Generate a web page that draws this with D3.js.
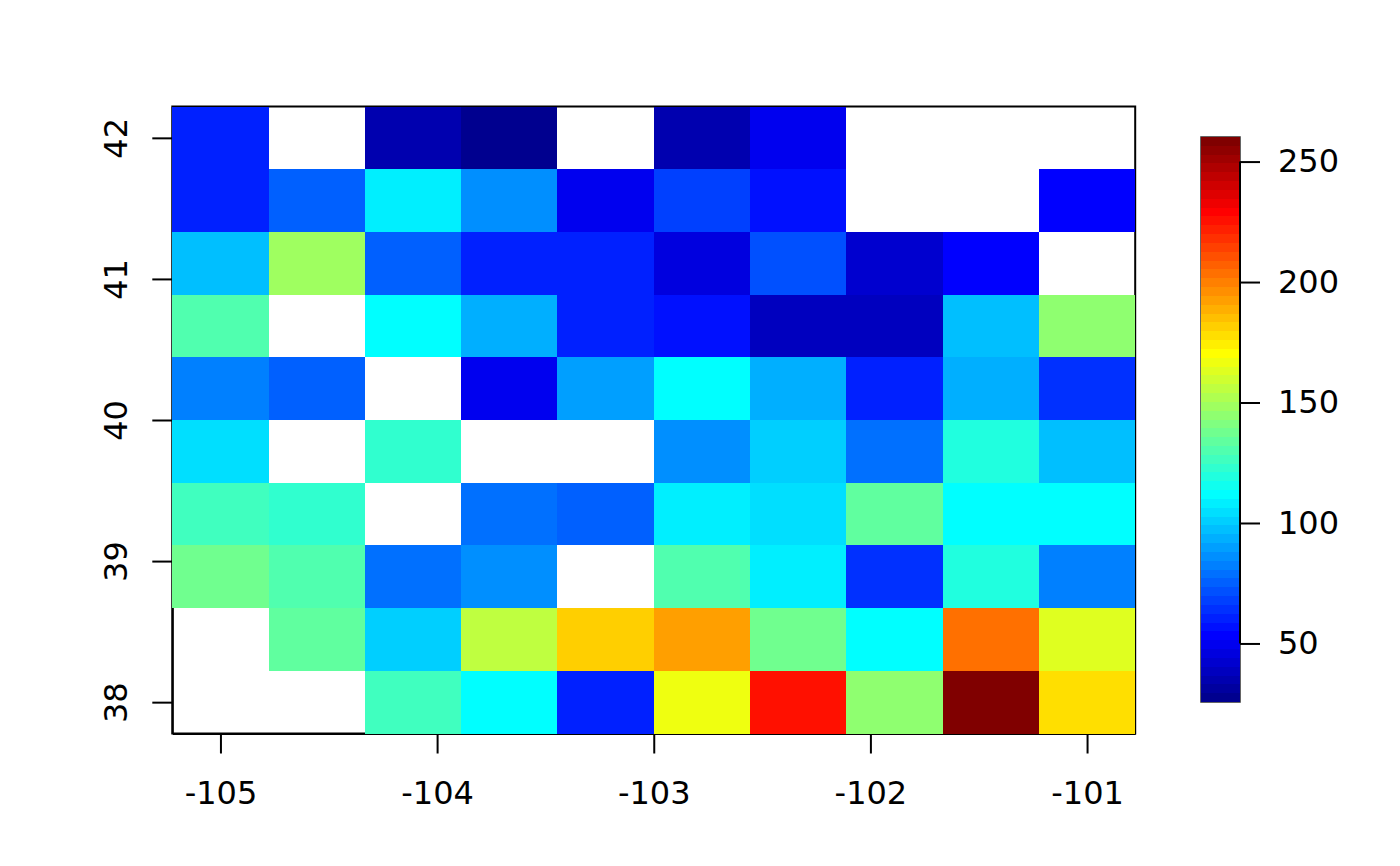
<!DOCTYPE html>
<html>
<head>
<meta charset="utf-8">
<script src="https://cdn.jsdelivr.net/npm/d3@7"></script>
<style>
  html, body { margin: 0; padding: 0; background: white; }
  svg { display: block; }
  text { font-family: "DejaVu Sans", sans-serif; font-size: 32px; fill: black; }
  .tick line, .domain { stroke: black; stroke-width: 2px; }
</style>
</head>
<body>
<svg id="chart" width="1400" height="866"></svg>
<script>
const LONS = [-105, -104.5556, -104.1111, -103.6667, -103.2222, -102.7778, -102.3333, -101.8889, -101.4444, -101];
const LATS = [42, 41.5556, 41.1111, 40.6667, 40.2222, 39.7778, 39.3333, 38.8889, 38.4444, 38];
const LON_TICKS = [-105, -104, -103, -102, -101];
const LAT_TICKS = [38, 39, 40, 41, 42];
const LEGEND_TICKS = [50, 100, 150, 200, 250];
const VALUE_RANGE = [25.7, 260.2];

// one row per latitude, north first; null = no data
const ROW_42_0 = [60.5, null, 34.9, 27.5, null, 34.9, 49.5, null, null, null];
const ROW_41_6 = [60.5, 75.2, 108.1, 86.2, 49.5, 67.8, 56.8, null, null, 53.2];
const ROW_41_1 = [97.1, 148.4, 75.2, 60.5, 60.5, 45.9, 71.5, 42.2, 53.2, null];
const ROW_40_7 = [130.1, null, 111.8, 93.5, 60.5, 56.8, 38.5, 38.5, 97.1, 144.8];
const ROW_40_2 = [82.5, 75.2, null, 49.5, 89.8, 111.8, 93.5, 60.5, 93.5, 64.2];
const ROW_39_8 = [104.5, null, 122.8, null, null, 86.2, 100.8, 78.8, 119.1, 97.1];
const ROW_39_3 = [126.4, 122.8, null, 78.8, 75.2, 108.1, 104.5, 133.8, 111.8, 111.8];
const ROW_38_9 = [137.4, 130.1, 78.8, 86.2, null, 130.1, 108.1, 64.2, 119.1, 82.5];
const ROW_38_4 = [null, 133.8, 100.8, 155.7, 181.4, 192.4, 137.4, 111.8, 203.4, 163.1];
const ROW_38_0 = [null, null, 126.4, 111.8, 60.5, 166.7, 225.3, 144.8, 258.3, 177.7];
const GRID = [ROW_42_0, ROW_41_6, ROW_41_1, ROW_40_7, ROW_40_2, ROW_39_8, ROW_39_3, ROW_38_9, ROW_38_4, ROW_38_0];

// tim.colors(64)
const PALETTE = [
  "#00008F", "#00009F", "#0000AF", "#0000BF", "#0000CF", "#0000DF", "#0000EF", "#0000FF",
  "#0010FF", "#0020FF", "#0030FF", "#0040FF", "#0050FF", "#0060FF", "#0070FF", "#0080FF",
  "#008FFF", "#009FFF", "#00AFFF", "#00BFFF", "#00CFFF", "#00DFFF", "#00EFFF", "#00FFFF",
  "#10FFEF", "#20FFDF", "#30FFCF", "#40FFBF", "#50FFAF", "#60FF9F", "#70FF8F", "#80FF80",
  "#8FFF70", "#9FFF60", "#AFFF50", "#BFFF40", "#CFFF30", "#DFFF20", "#EFFF10", "#FFFF00",
  "#FFEF00", "#FFDF00", "#FFCF00", "#FFBF00", "#FFAF00", "#FF9F00", "#FF8F00", "#FF8000",
  "#FF7000", "#FF6000", "#FF5000", "#FF4000", "#FF3000", "#FF2000", "#FF1000", "#FF0000",
  "#EF0000", "#DF0000", "#CF0000", "#BF0000", "#AF0000", "#9F0000", "#8F0000", "#800000"
];

const plot = { left: 172.3, right: 1135.2, top: 106.5, bottom: 733.5 };
const bar = { left: 1201, right: 1240, top: 137, bottom: 702 };
const CELL_DEG = 4 / 9;
const TICK_LEN = 20;

const svg = d3.select("#chart");

const x = d3.scaleLinear()
    .domain([-105 - CELL_DEG / 2, -101 + CELL_DEG / 2])
    .range([plot.left, plot.right]);
const y = d3.scaleLinear()
    .domain([38 - CELL_DEG / 2, 42 + CELL_DEG / 2])
    .range([plot.bottom, plot.top]);
const color = d3.scaleQuantize().domain(VALUE_RANGE).range(PALETTE);
const legendY = d3.scaleLinear().domain(VALUE_RANGE).range([bar.bottom, bar.top]);

// Plot box and axes go underneath, the raster half covers the box line
// ----------------------------------------
svg.append("rect")
    .attr("x", plot.left)
    .attr("y", plot.top)
    .attr("width", plot.right - plot.left)
    .attr("height", plot.bottom - plot.top)
    .attr("fill", "white")
    .attr("stroke", "black")
    .attr("stroke-width", 2);

svg.append("g")
    .attr("transform", `translate(0, ${plot.bottom})`)
    .call(d3.axisBottom(x).tickValues(LON_TICKS).tickFormat(d => String(d))
        .tickSize(TICK_LEN).tickSizeOuter(0).tickPadding(28));

svg.append("g")
    .attr("transform", `translate(${plot.left}, 0)`)
    .call(d3.axisLeft(y).tickValues(LAT_TICKS).tickFormat(d => String(d))
        .tickSize(TICK_LEN).tickSizeOuter(0))
    .call(g => g.selectAll("text")
        .attr("text-anchor", "middle")
        .attr("dy", null)
        .attr("x", null)
        .attr("transform", "translate(-45, 0) rotate(-90)"));

// Cells, edges rounded so that neighbours share a pixel boundary
// ----------------------------------------
const cells = GRID.flatMap((row, r) => row.map((value, c) =>
    ({ lon: LONS[c], lat: LATS[r], value: value })))
    .filter(d => d.value !== null);

const x0 = d => Math.round(x(d.lon - CELL_DEG / 2));
const x1 = d => Math.round(x(d.lon + CELL_DEG / 2));
const y0 = d => Math.round(y(d.lat + CELL_DEG / 2));
const y1 = d => Math.round(y(d.lat - CELL_DEG / 2));

svg.append("g")
    .selectAll("rect")
    .data(cells)
    .join("rect")
    .attr("x", x0)
    .attr("y", y0)
    .attr("width", d => x1(d) - x0(d))
    .attr("height", d => y1(d) - y0(d))
    .attr("fill", d => color(d.value));

// Legend
// ----------------------------------------
const bandTop = d => Math.round(legendY(color.invertExtent(d)[1]));
const bandBottom = d => Math.round(legendY(color.invertExtent(d)[0]));

const legend = svg.append("g");
legend.append("rect")
    .attr("x", bar.left)
    .attr("y", bar.top)
    .attr("width", bar.right - bar.left)
    .attr("height", bar.bottom - bar.top)
    .attr("fill", "none")
    .attr("stroke", "#333")
    .attr("stroke-width", 1.5);
legend.selectAll("rect.band")
    .data(PALETTE)
    .join("rect")
    .attr("class", "band")
    .attr("x", bar.left)
    .attr("width", bar.right - bar.left)
    .attr("y", bandTop)
    .attr("height", d => bandBottom(d) - bandTop(d))
    .attr("fill", d => d);

svg.append("g")
    .attr("transform", `translate(${bar.right}, 0)`)
    .call(d3.axisRight(legendY).tickValues(LEGEND_TICKS).tickFormat(d => String(d))
        .tickSize(TICK_LEN).tickSizeOuter(0).tickPadding(18))
    .call(g => g.select(".domain").attr("d", `M0,${legendY(50)}V${legendY(250)}`));
</script>
</body>
</html>
